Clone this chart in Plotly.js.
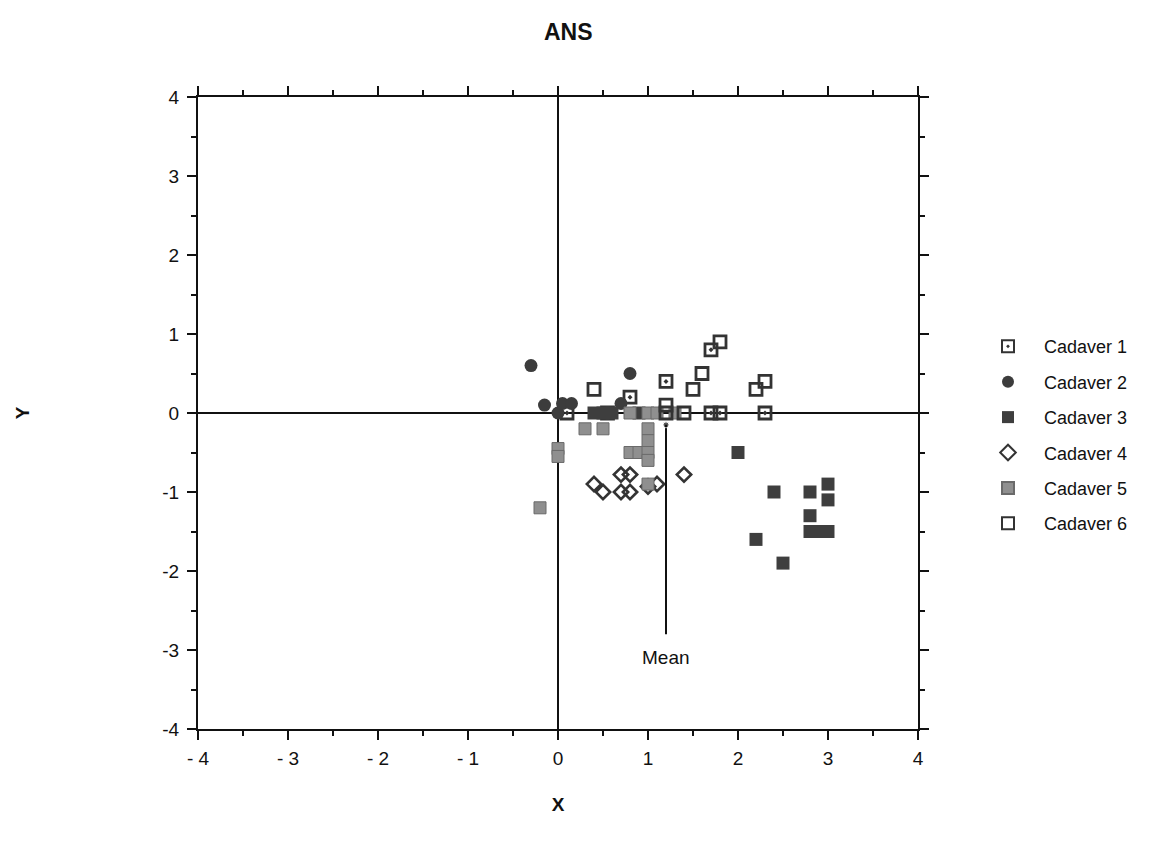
<!DOCTYPE html>
<html>
<head>
<meta charset="utf-8">
<script src="https://cdn.plot.ly/plotly-3.0.1.min.js"></script>
<style>
  html, body { margin: 0; padding: 0; background: #fff; }
  #chart { width: 1162px; height: 850px; }
</style>
</head>
<body>
<div id="chart"></div>
<script>
// Landmark displacement (ANS) for six cadavers
const seriesNames = ["Cadaver 1", "Cadaver 2", "Cadaver 3", "Cadaver 4", "Cadaver 5", "Cadaver 6"];

const cad1X = [0.1, 0.55, 0.8, 1.2, 1.7, 1.7, 1.8, 2.3];
const cad1Y = [0, 0, 0.2, 0.4, 0.8, 0, 0, 0];

const cad2X = [-0.3, -0.15, 0, 0.05, 0.15, 0.7, 0.8];
const cad2Y = [0.6, 0.1, 0, 0.12, 0.12, 0.12, 0.5];

const cad3X = [0.4, 0.5, 0.6, 0.9, 2.0, 2.4, 2.8, 3.0, 3.0, 2.8, 2.8, 2.9, 3.0, 2.2, 2.5];
const cad3Y = [0, 0, 0, 0, -0.5, -1.0, -1.0, -0.9, -1.1, -1.3, -1.5, -1.5, -1.5, -1.6, -1.9];

const cad4X = [0.4, 0.5, 0.7, 0.8, 0.7, 0.8, 1.0, 1.1, 1.4];
const cad4Y = [-0.9, -1.0, -0.78, -0.78, -1.0, -1.0, -0.93, -0.9, -0.78];

const cad5X = [-0.2, 0, 0, 0.3, 0.5, 0.8, 0.9, 1.0, 1.0, 1.0, 1.0, 1.0, 0.8, 1.0, 1.1, 1.3];
const cad5Y = [-1.2, -0.45, -0.55, -0.2, -0.2, -0.5, -0.5, -0.2, -0.35, -0.5, -0.6, -0.9, 0, 0, 0, 0];

const cad6X = [0.4, 1.2, 1.5, 1.6, 1.8, 2.2, 2.3, 1.2, 1.4];
const cad6Y = [0.3, 0.1, 0.3, 0.5, 0.9, 0.3, 0.4, 0, 0];

// Mean marker line
const meanX = [1.2, 1.2];
const meanY = [-0.15, -2.8];
const meanLabel = "Mean";
const meanLabelPos = [1.2, -3.1];

// Axis ticks
const tickVals = [-4, -3, -2, -1, 0, 1, 2, 3, 4];
const xTickText = ["- 4", "- 3", "- 2", "- 1", "0", "1", "2", "3", "4"];
const yTickText = ["-4", "-3", "-2", "-1", "0", "1", "2", "3", "4"];

const dark = "#333333";
const FONT = "Liberation Sans, Arial, Helvetica, sans-serif";

const styles = [
  {symbol: "square-open-dot", size: 12, color: dark, line: {width: 2.8, color: dark}},
  {symbol: "circle", size: 13, color: "#3c3c3c", line: {width: 0}},
  {symbol: "square", size: 13, color: "#3e3e3e", line: {width: 0}},
  {symbol: "diamond-open", size: 11, color: dark, line: {width: 2.6, color: dark}},
  {symbol: "square", size: 12, color: "#8f8f8f", line: {width: 1, color: "#6a6a6a"}},
  {symbol: "square-open", size: 12, color: dark, line: {width: 2.8, color: dark}}
];

const xs = [cad1X, cad2X, cad3X, cad4X, cad5X, cad6X];
const ys = [cad1Y, cad2Y, cad3Y, cad4Y, cad5Y, cad6Y];

const traces = seriesNames.map((name, i) => ({
  type: "scatter",
  mode: "markers",
  name: name,
  legendgroup: name,
  x: xs[i],
  y: ys[i],
  marker: styles[i],
  hoverinfo: "x+y+name"
}));

traces.push({
  type: "scatter",
  mode: "lines+markers",
  x: meanX,
  y: meanY,
  showlegend: false,
  line: {color: "#111", width: 2},
  marker: {size: [6, 0], color: "#111"},
  hoverinfo: "skip"
});

const axisCommon = {
  range: [-4, 4],
  tickmode: "array",
  tickvals: tickVals,
  ticks: "outside",
  ticklen: 9,
  tickwidth: 2,
  tickcolor: "#111",
  showline: true,
  linecolor: "#111",
  linewidth: 2,
  mirror: "allticks",
  showgrid: false,
  zeroline: true,
  zerolinecolor: "#111",
  zerolinewidth: 1.5,
  minor: {dtick: 0.5, ticks: "outside", ticklen: 5, tickwidth: 2, tickcolor: "#111", showgrid: false},
  tickfont: {family: FONT, size: 19, color: "#111"},
  fixedrange: true
};

const layout = {
  width: 1162,
  height: 850,
  paper_bgcolor: "#fff",
  plot_bgcolor: "#fff",
  margin: {l: 198, r: 244, t: 97, b: 121},
  title: {
    text: "<b>ANS</b>",
    x: 0.489, xanchor: "center",
    y: 0.962, yanchor: "middle",
    font: {family: FONT, size: 23, color: "#111"}
  },
  xaxis: Object.assign({}, axisCommon, {
    ticktext: xTickText,
    ticklabelstandoff: 2,
    title: {text: "<b>X</b>", font: {family: FONT, size: 19, color: "#111"}, standoff: 30}
  }),
  yaxis: Object.assign({}, axisCommon, {
    ticktext: yTickText,
    ticklabelstandoff: 4,
    title: {text: "<b>Y</b>", font: {family: FONT, size: 19, color: "#111"}, standoff: 128}
  }),
  legend: {
    x: 1.075, xanchor: "left",
    y: 0.465, yanchor: "middle",
    font: {family: FONT, size: 18, color: "#111"},
    traceorder: "grouped",
    tracegroupgap: 9,
    itemwidth: 62,
    itemsizing: "constant",
    bgcolor: "rgba(0,0,0,0)"
  },
  annotations: [{
    x: meanLabelPos[0], y: meanLabelPos[1],
    xref: "x", yref: "y",
    text: meanLabel,
    showarrow: false,
    font: {family: FONT, size: 19, color: "#111"}
  }],
  showlegend: true
};

Plotly.newPlot("chart", traces, layout, {displayModeBar: false, staticPlot: true});
</script>
</body>
</html>
